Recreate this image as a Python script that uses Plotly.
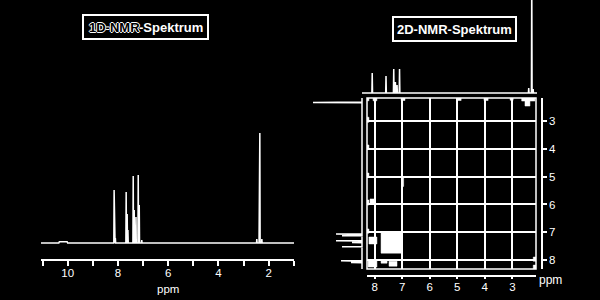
import plotly.graph_objects as go

W, H = 600, 300
FONT = "Liberation Sans"

# ---------------- data ----------------
# 1D 1H spectrum (ppm, relative intensity)
ppm_1d = [8.15, 8.10, 7.67, 7.63, 7.60, 7.39, 7.35, 7.28, 7.19, 7.15, 7.05, 2.47, 2.37, 2.35, 2.27]
int_1d = [53, 5, 51, 29, 13, 67, 33, 26, 68, 38, 3, 4, 70, 110, 4]
# small broad hump in the baseline (start ppm, end ppm, height)
hump_1d = [10.35, 10.00, 1.2]
ticks_1d = [1, 2, 3, 4, 5, 6, 7, 8, 9, 10, 11]
ticklabels_1d = ["", "2", "", "4", "", "6", "", "8", "", "10", ""]

# projection above the 2D map (F2)
ppm_top = [8.09, 7.59, 7.31, 7.25, 7.19, 7.10, 2.42, 2.31, 2.26]
int_top = [20, 17, 24, 11, 8, 24, 5, 120, 4]

# projection left of the 2D map (F1)
ppm_left = [2.33, 7.065, 7.125, 7.305, 7.365, 7.52, 8.025, 8.085]
int_left = [49, 26, 20, 26, 10, 20, 21, 11]

# 2D cross-peak regions [x0, x1, y0, y1] in ppm
peaks_2d = [
    [7.77, 7.04, 6.99, 7.75],
    [8.21, 7.92, 7.17, 7.42],
    [8.24, 7.92, 8.00, 8.25],
    [7.77, 7.55, 8.00, 8.11],
    [7.48, 7.19, 8.04, 8.22],
    [2.66, 2.18, 2.14, 2.28],
    [2.54, 2.36, 2.28, 2.46],
    [2.24, 2.12, 7.89, 8.04],
    [2.24, 2.12, 8.18, 8.32],
    [8.32, 8.21, 2.10, 2.27],
    [8.06, 7.92, 2.10, 2.27],
    [7.04, 6.90, 2.10, 2.26],
    [5.00, 4.86, 2.10, 2.26],
    [4.03, 3.88, 2.10, 2.26],
    [3.08, 2.97, 2.10, 2.25],
    [8.35, 8.21, 2.86, 3.04],
    [8.35, 8.21, 3.86, 3.99],
    [8.35, 8.21, 4.87, 5.01],
    [8.35, 8.21, 5.84, 6.02],
    [8.35, 8.21, 6.88, 7.03],
    [7.00, 6.95, 5.05, 5.35],
    [8.17, 8.00, 5.80, 5.96],
]
ticks_2d = [3, 4, 5, 6, 7, 8]

# ---------------- helpers ----------------
def stick_spectrum(ppm, inten, lo, hi, w=0.012, humps=None):
    feats = []
    for p, h in zip(ppm, inten):
        feats.append((p + w, 0))
        feats.append((p, h))
        feats.append((p - w, 0))
    if humps:
        a, b, h = humps
        feats += [(a, 0), (a - 0.02, h), (b + 0.02, h), (b, 0)]
    feats.sort(key=lambda t: -t[0])
    xs = [hi] + [f[0] for f in feats] + [lo]
    ys = [0] + [f[1] for f in feats] + [0]
    return xs, ys


def px_x(px):
    return px / W


def px_y(py):
    return 1 - py / H


fig = go.Figure()

# 1D spectrum
x1, y1 = stick_spectrum(ppm_1d, int_1d, 0.99, 11.06, humps=hump_1d)
fig.add_trace(go.Scatter(x=x1, y=y1, mode="lines", line=dict(color="white", width=1.5),
                         xaxis="x", yaxis="y", hoverinfo="skip"))

# top projection
xt, yt = stick_spectrum(ppm_top, int_top, 2.12, 8.46)
fig.add_trace(go.Scatter(x=xt, y=yt, mode="lines", line=dict(color="white", width=1.5),
                         xaxis="x3", yaxis="y3", hoverinfo="skip"))

# left projection (rotated)
yl, xl = stick_spectrum(ppm_left, int_left, 2.17, 8.32)
fig.add_trace(go.Scatter(x=xl, y=yl, mode="lines", line=dict(color="white", width=1.5),
                         xaxis="x4", yaxis="y4", hoverinfo="skip"))

# 2D cross peaks
bx, by = [], []
for x0, x1_, y0, y1_ in peaks_2d:
    bx += [x0, x1_, x1_, x0, x0, None]
    by += [y0, y0, y1_, y1_, y0, None]
fig.add_trace(go.Scatter(x=bx, y=by, mode="lines", fill="toself", fillcolor="white",
                         line=dict(color="white", width=0.5), xaxis="x2", yaxis="y2",
                         hoverinfo="skip"))

tickfont = dict(family=FONT, size=11.5, color="white")

fig.update_layout(
    width=W, height=H, margin=dict(l=0, r=0, t=0, b=0),
    paper_bgcolor="black", plot_bgcolor="black", showlegend=False,
    xaxis=dict(domain=[px_x(41), px_x(294)], range=[11.06, 0.99], anchor="y",
               showline=True, linecolor="white", linewidth=1.5, ticks="outside",
               ticklen=5, tickwidth=1.5, tickcolor="white", tickvals=ticks_1d,
               ticktext=ticklabels_1d, tickfont=tickfont, ticklabelstandoff=-3,
               showgrid=False, zeroline=False),
    yaxis=dict(domain=[px_y(259), px_y(125)], range=[-16, 118], visible=False),
    xaxis2=dict(domain=[px_x(367), px_x(536)], range=[8.28, 2.14], anchor="free",
                position=px_y(275.5), showline=True, linecolor="white", linewidth=1.5,
                ticks="outside", ticklen=3, tickwidth=1.5, tickcolor="white",
                tickvals=ticks_2d, tickfont=tickfont, ticklabelstandoff=-2,
                showgrid=True, gridcolor="white", gridwidth=1.5, zeroline=False),
    yaxis2=dict(domain=[px_y(269), px_y(98)], range=[8.32, 2.17], anchor="free",
                position=px_x(542), side="right", showline=True, linecolor="white",
                linewidth=1.5, ticks="outside", ticklen=4, tickwidth=1.5,
                tickcolor="white", tickvals=ticks_2d, tickfont=tickfont, showgrid=True,
                gridcolor="white", gridwidth=1.5, zeroline=False),
    xaxis3=dict(domain=[px_x(362), px_x(537)], range=[8.46, 2.12], anchor="y3", visible=False),
    yaxis3=dict(domain=[px_y(94), 1], range=[-1, 93], anchor="x3", visible=False),
    xaxis4=dict(domain=[px_x(300), px_x(363)], range=[62, -1], anchor="y4", visible=False),
    yaxis4=dict(domain=[px_y(269), px_y(98)], range=[8.32, 2.17], anchor="x4", visible=False),
)

# frame of the 2D map
fig.add_shape(type="rect", xref="x2 domain", yref="y2 domain", x0=0, x1=1, y0=0, y1=1,
              line=dict(color="white", width=1.5), layer="above")

# title boxes
for (bx0, bx1, by0, by1) in [(83, 208, 15, 39), (393, 516, 17, 41)]:
    fig.add_shape(type="rect", xref="paper", yref="paper", x0=px_x(bx0), x1=px_x(bx1),
                  y0=px_y(by1), y1=px_y(by0), line=dict(color="white", width=2),
                  fillcolor="black")

outline = "1px 0 0 #fff, -1px 0 0 #fff, 0 1px 0 #fff, 0 -1px 0 #fff"
ann = dict(xref="paper", yref="paper", showarrow=False, yanchor="middle",
           borderpad=0, borderwidth=0)
fig.add_annotation(x=px_x(139.5), y=px_y(27.5), xanchor="right", **ann,
                   text="1D-NMR",
                   font=dict(family=FONT, size=13, color="black", weight="bold", shadow=outline))
fig.add_annotation(x=px_x(139), y=px_y(27.5), xanchor="left", **ann,
                   text="-Spektrum",
                   font=dict(family=FONT, size=13, color="white", weight="bold"))
fig.add_annotation(x=px_x(454.5), y=px_y(29.5), xanchor="center", **ann,
                   text="2D-NMR-Spektrum",
                   font=dict(family=FONT, size=13, color="white", weight="bold"))

# axis titles
fig.add_annotation(x=px_x(167.5), y=px_y(288.5), xanchor="center", **ann,
                   text="ppm", font=dict(family=FONT, size=11.5, color="white"))
fig.add_annotation(x=px_x(550.5), y=px_y(280), xanchor="center", **ann,
                   text="ppm", font=dict(family=FONT, size=12, color="white"))

fig.write_html("out.html")
